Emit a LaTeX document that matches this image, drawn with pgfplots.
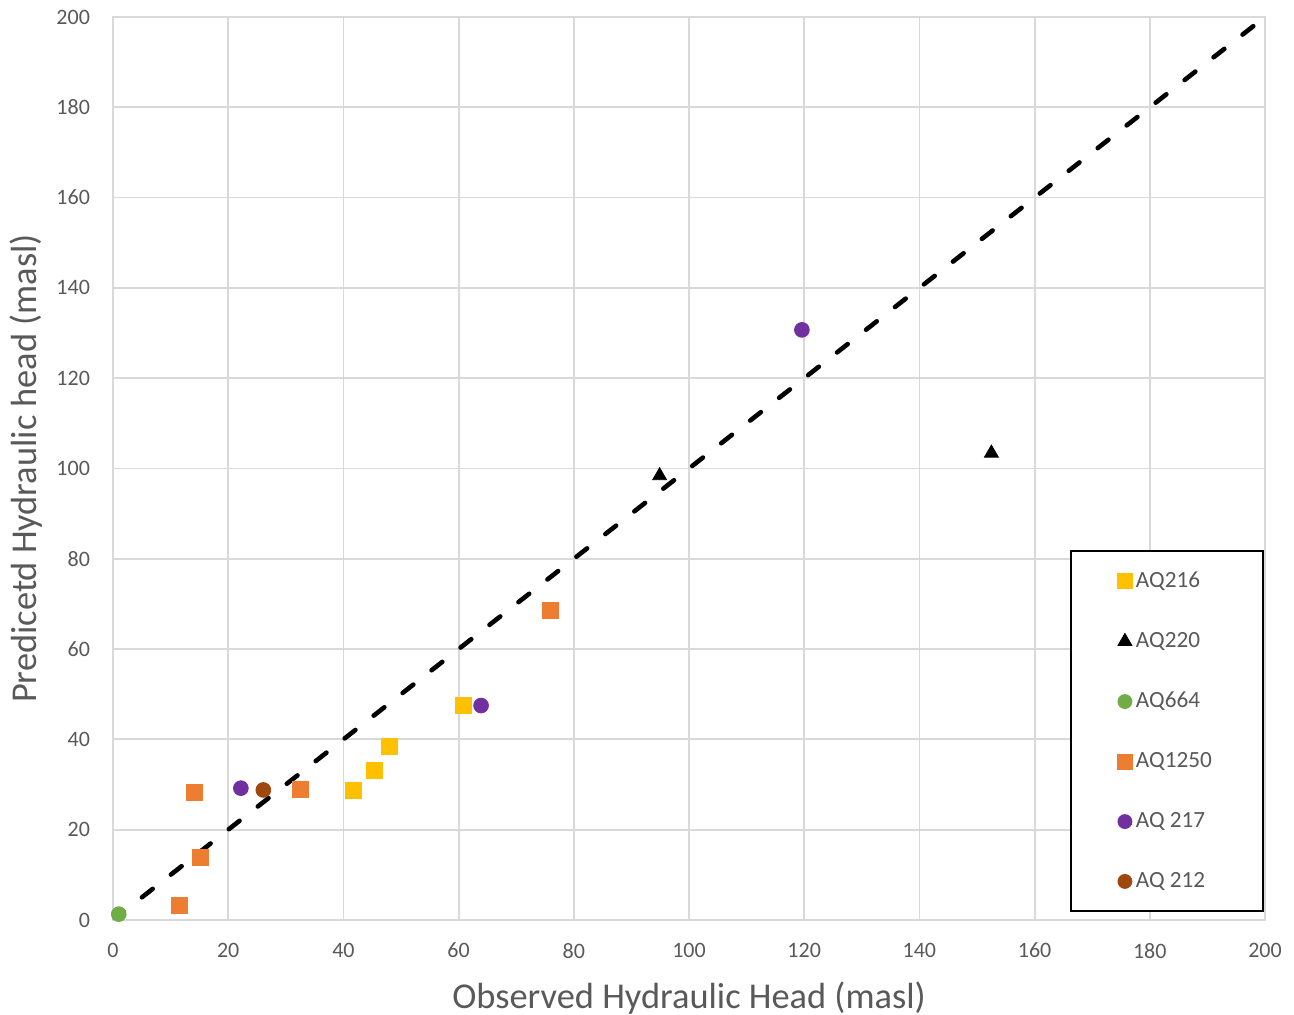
\documentclass[border=0pt]{standalone}
\usepackage{fontspec}
\setmainfont{Carlito}
\usepackage{pgfplots}
\pgfplotsset{compat=1.18}
\definecolor{txtgray}{HTML}{595959}
\definecolor{gridgray}{HTML}{D9D9D9}
\definecolor{cyel}{HTML}{FFC000}
\definecolor{cora}{HTML}{ED7D31}
\definecolor{cgrn}{HTML}{70AD47}
\definecolor{cpur}{HTML}{7030A0}
\definecolor{cbrn}{HTML}{9E480E}
\begin{document}
\begin{tikzpicture}
\begin{axis}[
  name=ax,
  scale only axis,
  width=576pt, height=451.5pt,
  xmin=0, xmax=200, ymin=0, ymax=200,
  xtick={0,20,...,200}, ytick={0,20,...,200},
  grid=major,
  grid style={gridgray, line width=0.9pt},
  axis line style={gridgray, line width=0.9pt},
  tick style={draw=none},
  ticklabel style={font=\fontsize{11}{13}\selectfont, text=txtgray},
  /pgf/number format/assume math mode=true,
  xticklabel style={yshift=-8pt},
  yticklabel style={xshift=-8pt},
  xlabel={Observed Hydraulic Head (masl)},
  ylabel={Predicetd Hydraulic head (masl)},
  label style={font=\fontsize{18.2}{21}\selectfont, text=txtgray},
  xlabel style={yshift=-5pt},
  ylabel style={yshift=0pt},
  legend cell align=left,
  legend image post style={scale=0.88},
  legend style={at={(0.8307,0.0089)}, anchor=south west,
    draw=black, line width=0.9pt, inner xsep=23.5pt, inner ysep=8.3pt,
    font=\fontsize{11.6}{14}\selectfont, text=txtgray,
    row sep=16.9pt},
]
\addplot[only marks, mark=square*, mark size=4pt, draw=cyel, fill=cyel] coordinates {
(41.8,28.6) (45.3,33.2) (47.9,38.4) (60.9,47.6)};
\addlegendentry{AQ216}
\addplot[only marks, mark=triangle*, mark size=4pt, draw=black, fill=black] coordinates {
(94.9,98.4) (152.5,103.4)};
\addlegendentry{AQ220}
\addplot[only marks, mark=*, mark size=3.7pt, draw=cgrn, fill=cgrn] coordinates {
(1.0,1.3)};
\addlegendentry{AQ664}
\addplot[only marks, mark=square*, mark size=4pt, draw=cora, fill=cora] coordinates {
(14.1,28.2) (15.1,13.8) (11.5,3.3) (32.5,29.0) (76.0,68.5)};
\addlegendentry{AQ1250}
\addplot[only marks, mark=*, mark size=3.7pt, draw=cpur, fill=cpur] coordinates {
(22.2,29.2) (63.9,47.5) (119.6,130.7)};
\addlegendentry{AQ 217}
\addplot[only marks, mark=*, mark size=3.7pt, draw=cbrn, fill=cbrn] coordinates {
(26.1,28.8)};
\addlegendentry{AQ 212}
\addplot[black, line width=2.3pt, line cap=round, dash pattern=on 6.8pt off 11.6pt, forget plot] coordinates {
(0,0) (200,200)};
\end{axis}
\pgfresetboundingbox
\path[use as bounding box] ([shift={(-56.5pt,-47.5pt)}]ax.south west) rectangle ([shift={(14.5pt,8.5pt)}]ax.north east);
\end{tikzpicture}
\end{document}
